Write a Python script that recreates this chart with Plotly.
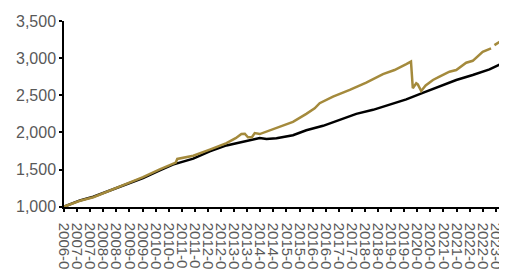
import plotly.graph_objects as go

# decimal-year time points and index values
black_t = [2006.50, 2007.11, 2007.62, 2008.26, 2008.89, 2009.52, 2010.16, 2010.66,
           2011.44, 2012.07, 2012.71, 2013.34, 2013.98, 2014.24, 2014.62, 2015.25,
           2015.76, 2016.40, 2017.03, 2017.67, 2018.31, 2018.94, 2019.58, 2020.21,
           2020.85, 2021.49, 2022.12, 2022.76, 2023.18]
black_v = [1000, 1084, 1134, 1218, 1299, 1386, 1490, 1567,
           1647, 1745, 1825, 1879, 1925, 1911, 1922, 1962,
           2029, 2089, 2170, 2250, 2304, 2371, 2445, 2532,
           2616, 2706, 2773, 2849, 2920]

gold_t = [2006.50, 2007.11, 2007.62, 2008.26, 2008.89, 2009.52, 2010.16, 2010.66,
          2010.77, 2010.83, 2011.44, 2012.07, 2012.71, 2013.06, 2013.28, 2013.41,
          2013.53, 2013.68, 2013.79, 2013.98, 2014.21, 2014.62, 2015.25, 2015.76,
          2016.08, 2016.27, 2016.78, 2017.42, 2018.05, 2018.69, 2019.13, 2019.58,
          2019.76, 2019.83, 2019.96, 2020.02, 2020.15, 2020.32, 2020.60, 2020.85,
          2021.23, 2021.49, 2021.87, 2022.12, 2022.50, 2022.82, 2022.89, 2022.95,
          2023.20]
gold_v = [1000, 1080, 1128, 1216, 1303, 1397, 1502, 1578,
          1594, 1643, 1687, 1768, 1855, 1922, 1978, 1982,
          1935, 1935, 1992, 1978, 2009, 2059, 2143, 2250,
          2324, 2394, 2482, 2572, 2670, 2786, 2840, 2920,
          2954, 2595, 2662, 2646, 2558, 2632, 2706, 2750,
          2817, 2840, 2938, 2964, 3085, 3131, None, 3175,
          3232]

tick_t = [2006.5 + 0.5 * i for i in range(34)]
tick_labels = ["2006-07", "2007-01", "2007-07", "2008-01", "2008-07", "2009-01", "2009-07",
               "2010-01", "2010-07", "2011-01", "2011-07", "2012-01", "2012-07", "2013-01",
               "2013-07", "2014-01", "2014-07", "2015-01", "2015-07", "2016-01", "2016-07",
               "2017-01", "2017-07", "2018-01", "2018-07", "2019-01", "2019-07", "2020-01",
               "2020-07", "2021-01", "2021-07", "2022-01", "2022-07", "2023-01"]

y_ticks = [1000, 1500, 2000, 2500, 3000, 3500]

fig = go.Figure()
fig.add_trace(go.Scatter(x=black_t, y=black_v, mode="lines",
                         line=dict(color="#000000", width=2.5), connectgaps=False))
fig.add_trace(go.Scatter(x=gold_t, y=gold_v, mode="lines",
                         line=dict(color="#A48A3C", width=2.5), connectgaps=False))

fig.update_layout(
    width=499, height=261,
    margin=dict(l=56, r=6, t=13, b=62),
    paper_bgcolor="white", plot_bgcolor="white",
    showlegend=False,
    font=dict(family="Liberation Sans, Arial, sans-serif", color="#595959"),
)
fig.update_xaxes(
    range=[2006.5, 2023.2],
    tickmode="array", tickvals=tick_t, ticktext=tick_labels,
    tickangle=90, tickfont=dict(size=15, color="#595959"),
    ticklabelstandoff=8,
    showgrid=False, zeroline=False,
    showline=True, linecolor="black", linewidth=1.5,
    ticks="outside", ticklen=3, tickwidth=2, tickcolor="black",
    automargin=False,
)
fig.update_yaxes(
    range=[996, 3500],
    tickmode="array", tickvals=y_ticks, tickformat=",",
    tickfont=dict(size=16, color="#595959"),
    showgrid=False, zeroline=False,
    showline=True, linecolor="black", linewidth=1.5,
    ticks="outside", ticklen=3, tickwidth=2, tickcolor="black",
    automargin=False,
)

fig.write_html("out.html")
